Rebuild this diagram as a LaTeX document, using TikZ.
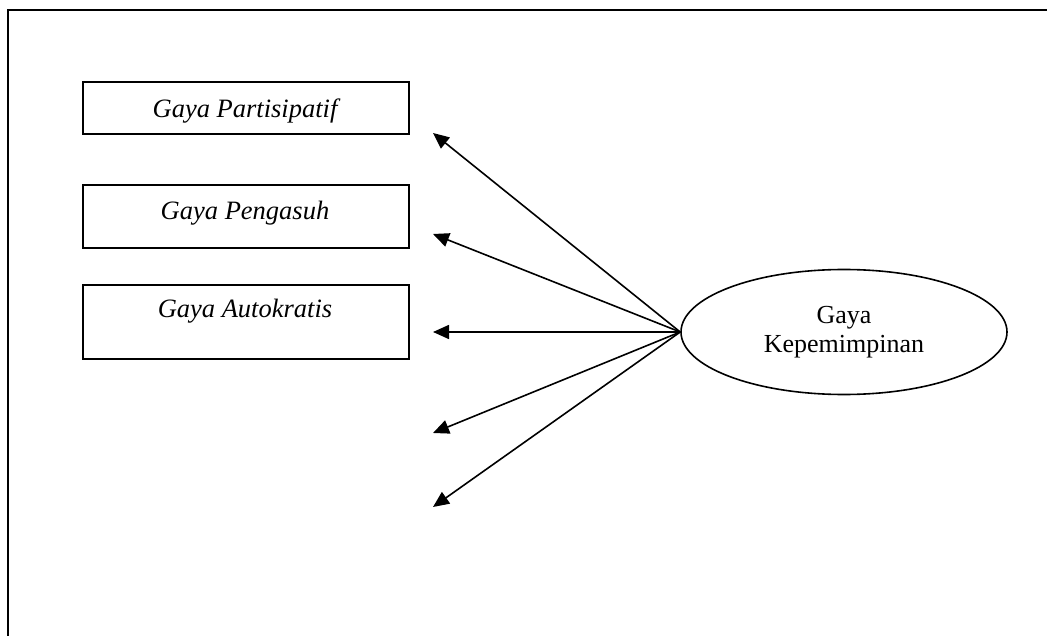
\documentclass[tikz,border=0pt]{standalone}
\usepackage{fontspec}
\setmainfont{Liberation Serif}
\usetikzlibrary{arrows.meta,shapes.geometric}
\begin{document}
\begin{tikzpicture}[x=1pt,y=-1pt,
  box/.style={draw,line width=1.8pt,minimum width=326pt,minimum height=#1,inner sep=0pt,anchor=north west},
  boxtext/.style={font=\fontsize{26.5}{29}\selectfont\itshape,inner sep=0pt,anchor=base},
  conn/.style={line width=1.6pt,-{Triangle[length=16pt,width=14pt]}}]
\useasboundingbox (0,0) rectangle (1047,636);
\draw[line width=2.2pt] (1047,10) -- (8,10) -- (8,636);
\node[box=52pt] (b1) at (82,81) {};
\node[box=63pt] (b2) at (82,184) {};
\node[box=74pt] (b3) at (82,284) {};
\node[boxtext] (t1) at (245,118) {Gaya Partisipatif};
\node[boxtext] (t2) at (245,220) {Gaya Pengasuh};
\node[boxtext] (t3) at (245,318) {Gaya Autokratis};
\node[draw,ellipse,line width=1.6pt,minimum width=326pt,minimum height=125pt,inner sep=0pt,
  align=center,font=\fontsize{26}{29}\selectfont] (k) at (844,332) {Gaya\\Kepemimpinan};
\coordinate (a1) at (433,133);
\coordinate (a2) at (433,234);
\coordinate (a3) at (433,332);
\coordinate (a4) at (433,433);
\coordinate (a5) at (433,507);
\foreach \i in {1,...,5} \draw[conn] (k.west) -- (a\i);
\end{tikzpicture}
\end{document}
